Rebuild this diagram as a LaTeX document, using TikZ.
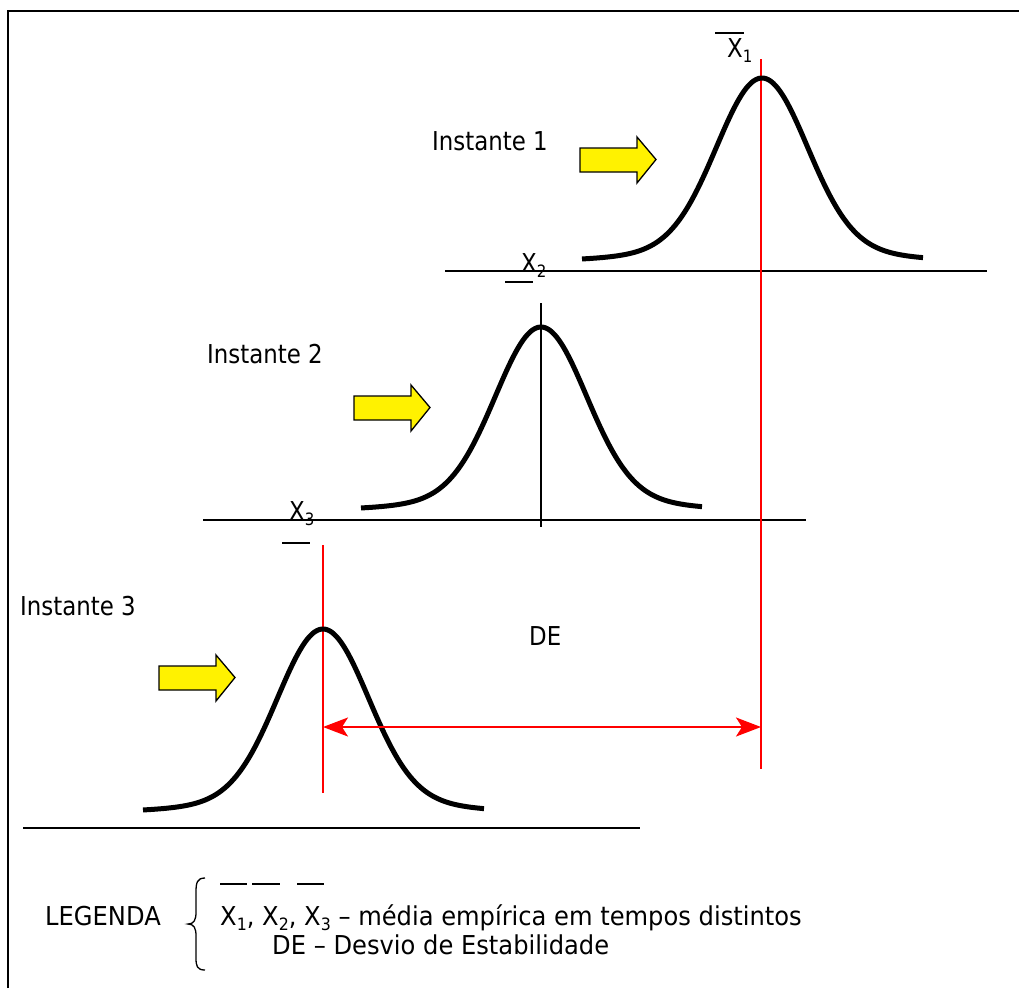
\documentclass[tikz,border=0pt]{standalone}
\usepackage{fontspec}
\setmainfont{DejaVu Sans}[FakeStretch=0.88]
\newfontfamily\wideface{DejaVu Sans}[FakeStretch=0.93]
\usetikzlibrary{arrows.meta}
\newcommand{\subdig}[1]{\raisebox{-0.2em}{\fontsize{17}{17}\selectfont #1}}
\begin{document}
\begin{tikzpicture}[x=1pt,y=-1pt,
  curve/.style={line width=5pt,line join=round},
  baseln/.style={line width=1.4pt},
  redln/.style={red,line width=2pt},
  yarrow/.style={fill=yellow,draw=black,line width=1.3pt,line join=miter},
  lbl/.style={anchor=base west,inner sep=0pt,font=\fontsize{26}{31}\selectfont},
  yarr/.pic={\draw[yarrow] (0,0) -- (57,0) -- (57,-11) -- (76,11.5) -- (57,35) -- (57,24) -- (0,24) -- cycle;}
]
\useasboundingbox (0,0) rectangle (1019,988);
% frame
\draw[line width=2pt] (8.3,988) -- (8.3,11) -- (1019,11);

% baselines
\draw[baseln] (445,271) -- (987,271);
\draw[baseln] (203,520) -- (806,520);
\draw[baseln] (23,828) -- (640,828);

% vertical lines
\draw[line width=1.4pt] (541,303) -- (541,527);
\draw[redln] (761,59) -- (761,769);
\draw[redln] (323,545) -- (323,793);

% bell curves
\draw[curve] plot[domain=-180:161,samples=140,smooth] ({762+\x},{265-187*(0.85*exp(-0.5*(\x/45)^2)+0.15/(1+(\x/93.7)^2))});
\draw[curve] plot[domain=-180:161,samples=140,smooth] ({541+\x},{514-187*(0.85*exp(-0.5*(\x/45)^2)+0.15/(1+(\x/93.7)^2))});
\draw[curve] plot[domain=-180:161,samples=140,smooth] ({323+\x},{816-187*(0.85*exp(-0.5*(\x/45)^2)+0.15/(1+(\x/93.7)^2))});

% yellow arrows
\pic at (580,148) {yarr};
\pic at (354,396) {yarr};
\pic at (159,666) {yarr};

% labels
\node[lbl] (i1) at (432,150) {Instante 1};
\node[lbl] (i2) at (207,363) {Instante 2};
\node[lbl] (i3) at (20,615) {Instante 3};
\node[lbl] (de) at (529,645) {DE};

\node[lbl] (x1) at (727,57) {X\subdig{1}};
\draw[line width=1.3pt] (715,33) -- (744,33);
\node[lbl] (x2) at (521,272) {X\subdig{2}};
\draw[line width=1.3pt] (505,282) -- (533,282);
\node[lbl] (x3) at (289,520) {X\subdig{3}};
\draw[line width=1.3pt] (282,543) -- (310,543);

% DE arrow
\coordinate (da) at (323,727);
\coordinate (db) at (761,727);
\draw[redln,{Stealth[length=25pt,width=19pt,inset=6pt]}-{Stealth[length=25pt,width=19pt,inset=6pt]}] (da) -- (db);

% legend
\node[lbl] (leg) at (45,925) {\wideface LEGENDA};
\draw[line width=1.3pt] (205,878) .. controls (197,878) and (196,883) .. (196,892) -- (196,912) .. controls (196,920) and (194,924) .. (188,924) .. controls (194,924) and (196,928) .. (196,936) -- (196,958) .. controls (196,966) and (197,970) .. (205,970);
\draw[line width=1.3pt] (220,884) -- (247,884);
\draw[line width=1.3pt] (252,884) -- (280,884);
\draw[line width=1.3pt] (297,884) -- (324,884);
\node[lbl] (l1) at (220,925) {\wideface X\subdig{1}, X\subdig{2}, X\subdig{3} – média empírica em tempos distintos};
\node[lbl] (l2) at (272,954) {\wideface DE – Desvio de Estabilidade};
\end{tikzpicture}
\end{document}
